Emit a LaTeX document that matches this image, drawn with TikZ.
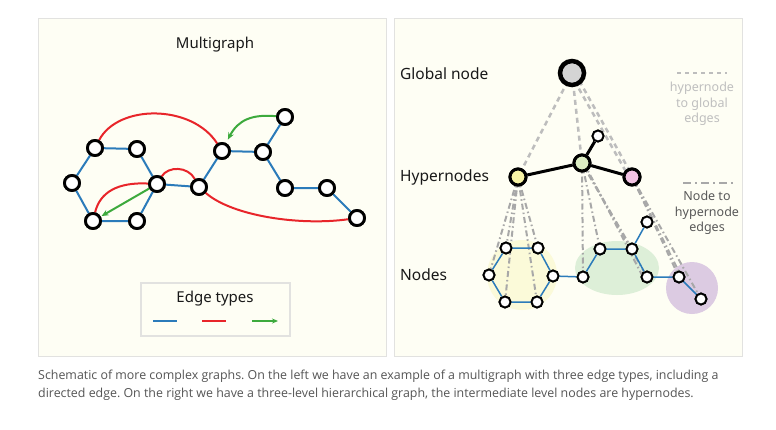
\documentclass[tikz,border=0pt]{standalone}
\usepackage{fontspec}
\setmainfont{Noto Sans}
\newfontfamily\capfont{Open Sans}
\usetikzlibrary{arrows.meta,calc}
\frenchspacing
\definecolor{panelbg}{HTML}{FEFEF4}
\definecolor{panelbd}{HTML}{E2E2E0}
\definecolor{eblue}{HTML}{2B7BBA}
\definecolor{ered}{HTML}{E8252A}
\definecolor{egreen}{HTML}{3DAA3D}
\definecolor{dgray}{HTML}{BDBDBD}
\definecolor{ddgray}{HTML}{A8A8A8}
\definecolor{blobyel}{HTML}{FBFAD9}
\definecolor{blobgrn}{HTML}{DDEFD8}
\definecolor{blobpur}{HTML}{DCCBE2}
\definecolor{hyel}{HTML}{F8F4A6}
\definecolor{hgrn}{HTML}{DCEDC3}
\definecolor{hpnk}{HTML}{F2C3E3}
\definecolor{capgray}{HTML}{555555}
\tikzset{
  lnode/.style={circle,draw=black,line width=2.8pt,fill=white,minimum size=15pt,inner sep=0pt},
  snode/.style={circle,draw=black,line width=1.9pt,fill=white,minimum size=11pt,inner sep=0pt},
  hnode/.style={circle,draw=black,line width=3pt,minimum size=16pt,inner sep=0pt},
  gnode/.style={circle,draw=black,line width=4.5pt,fill=black!17,minimum size=24pt,inner sep=0pt},
  bedge/.style={draw=eblue,line width=2pt},
  sbedge/.style={draw=eblue,line width=1.5pt},
  redge/.style={draw=ered,line width=2pt},
  gedge/.style={draw=egreen,line width=2pt,-{Stealth[length=7pt,width=6pt]}},
  hgedge/.style={draw=dgray,line width=2.5pt,dash pattern=on 5pt off 4pt},
  nhedge/.style={draw=ddgray,line width=2pt,dash pattern=on 6pt off 3pt on 1.5pt off 3pt},
  kedge/.style={draw=black,line width=3pt},
  panel/.style={draw=panelbd,fill=panelbg,line width=1pt},
  lbl/.style={font=\fontsize{15.5}{18}\selectfont,text=black!90,inner sep=0pt},
  captxt/.style={anchor=west,text=capgray,font=\capfont\fontsize{12.4}{14}\selectfont,inner sep=0pt}
}
\begin{document}
\begin{tikzpicture}[x=1pt,y=-1pt]
\useasboundingbox (0,0) rectangle (776,429);
\fill[white] (0,0) rectangle (776,429);
% panels
\draw[panel] (38,18) rectangle (386,356);
\draw[panel] (394,18) rectangle (742,356);

% ===== LEFT: multigraph =====
\node[lbl,font=\fontsize{15}{18}\selectfont] (title) at (215,45) {Multigraph};
\node[lnode] (n1) at (95,148) {};
\node[lnode] (n2) at (137,149) {};
\node[lnode] (n3) at (72,183) {};
\node[lnode] (n4) at (157,184) {};
\node[lnode] (n5) at (93,221) {};
\node[lnode] (n6) at (137,221) {};
\node[lnode] (n7) at (199,187) {};
\node[lnode] (n8) at (222,151) {};
\node[lnode] (n9) at (263,152) {};
\node[lnode] (n10) at (285,117) {};
\node[lnode] (n11) at (285,188) {};
\node[lnode] (n12) at (327,188) {};
\node[lnode] (n13) at (357,218) {};
\path[bedge] (n1)--(n2) (n1)--(n3) (n3)--(n5) (n5)--(n6) (n6)--(n4) (n2)--(n4)
  (n4)--(n7) (n7)--(n8) (n8)--(n9) (n9)--(n10) (n9)--(n11) (n11)--(n12) (n12)--(n13);
\path[redge] (n1) .. controls (118,104) and (192,104) .. (n8);
\path[redge] (n4) .. controls (168,166) and (188,166) .. (n7);
\path[redge] (n5) .. controls (100,192) and (118,182) .. (n4);
\path[redge] (n7) .. controls (232,216) and (300,226) .. (n13);
\path[gedge,shorten >=4pt] (n10) .. controls (252,114) and (238,120) .. (n8);
\path[gedge,shorten >=1pt] (n4) -- (n5);
% redraw nodes on top
\foreach \x/\y in {95/148,137/149,72/183,157/184,93/221,137/221,199/187,222/151,263/152,285/117,285/188,327/188,357/218}
  \node[lnode] at (\x,\y) {};

% legend
\node[draw=panelbd,fill=panelbg,line width=1.2pt,minimum width=149pt,minimum height=53pt,inner sep=0pt] (leg) at (215.5,309.5) {};
\node[lbl,font=\fontsize{15}{18}\selectfont] (legt) at (215,299) {Edge types};
\coordinate (lb1) at (153,321); \coordinate (lb2) at (177,321);
\coordinate (lr1) at (202,321); \coordinate (lr2) at (226,321);
\coordinate (lg1) at (252,321); \coordinate (lg2) at (278,321);
\draw[bedge] (lb1)--(lb2);
\draw[redge] (lr1)--(lr2);
\draw[gedge,-{Stealth[length=6pt,width=5pt]}] (lg1)--(lg2);

% ===== RIGHT: hierarchical graph =====
\fill[blobyel] (522,275) circle (35);
\fill[blobgrn] (617,268) ellipse (42 and 27);
\fill[blobpur] (692,288) circle (26);

\node[lbl,anchor=west] (lglob) at (400,74) {Global node};
\node[lbl,anchor=west] (lhyp) at (400,177) {Hypernodes};
\node[lbl,anchor=west] (lnod) at (400,275) {Nodes};

\coordinate (G) at (572,73);
\coordinate (HY) at (518,177);
\coordinate (HG) at (582,163);
\coordinate (HP) at (632,177);
\node[snode] (s0) at (598,136) {};

\node[snode] (a1) at (506,248) {};
\node[snode] (a2) at (538,248) {};
\node[snode] (a3) at (489,275) {};
\node[snode] (a4) at (553,276) {};
\node[snode] (a5) at (505,302) {};
\node[snode] (a6) at (537,302) {};
\node[snode] (b1) at (583,277) {};
\node[snode] (b2) at (600,249) {};
\node[snode] (b3) at (632,249) {};
\node[snode] (b4) at (647,222) {};
\node[snode] (b5) at (647,277) {};
\node[snode] (c1) at (679,277) {};
\node[snode] (c2) at (701,299) {};

% node to hypernode edges
\foreach \t in {a1,a2,a3,a5,a6} \draw[nhedge] (HY) -- (\t.center);
\foreach \t in {b1,b2,b3,b5} \draw[nhedge] (HG) -- (\t.center);
\draw[nhedge] ($(HG)+(2,0)$) -- ($(b5.center)+(-4,0)$);
\foreach \t in {c1,c2} \draw[nhedge] (HP) -- (\t.center);
\draw[nhedge] (HP) -- ($(c1.center)+(3,1)$);
% hypernode to global edges
\draw[hgedge] (G) -- (HY);
\draw[hgedge] (G) -- (HG);
\draw[hgedge] ($(G)+(-2,0)$) -- ($(HP)+(-3,0)$);
\draw[hgedge] ($(G)+(3,0)$) -- ($(HP)+(1,0)$);

% blue edges
\draw[sbedge] (a1)--(a2) (a2)--(a4) (a4)--(a6) (a6)--(a5) (a5)--(a3) (a3)--(a1)
  (a4)--(b1) (b1)--(b2) (b2)--(b3) (b3)--(b4) (b3)--(b5) (b5)--(c1) (c1)--(c2);

% hypernodes
\node[gnode] (glob) at (G) {};
\node[hnode,fill=hyel] (hy) at (HY) {};
\node[hnode,fill=hgrn] (hg) at (HG) {};
\node[hnode,fill=hpnk] (hp) at (HP) {};
\draw[kedge] (hy)--(hg) (hg)--(hp) (hg)--(s0);
\node[hnode,fill=hyel] at (HY) {};
\node[hnode,fill=hgrn] at (HG) {};
\node[hnode,fill=hpnk] at (HP) {};
\node[snode] at (598,136) {};
\foreach \x/\y in {506/248,538/248,489/275,553/276,505/302,537/302,583/277,600/249,632/249,647/222,647/277,679/277,701/299}
  \node[snode] at (\x,\y) {};

% right legend
\coordinate (k1) at (677,73); \coordinate (k2) at (727,73);
\draw[draw=dgray,line width=2pt,dash pattern=on 4pt off 4pt] (k1)--(k2);
\node[align=center,text=black!25,font=\fontsize{12.5}{15.5}\selectfont,inner sep=0pt] (kt1) at (702,104) {hypernode\\to global\\edges};
\coordinate (k3) at (683,183); \coordinate (k4) at (733,183);
\draw[draw=ddgray,line width=2pt,dash pattern=on 8pt off 4pt on 2pt off 4pt] (k3)--(k4);
\node[align=center,text=black!65,font=\fontsize{12.5}{15.5}\selectfont,inner sep=0pt] (kt2) at (707,213) {Node to\\hypernode\\edges};

% caption
\node[captxt] (cap1) at (38,376) {Schematic of more complex graphs. On the left we have an example of a multigraph with three edge types, including a};
\node[captxt] (cap2) at (38,394) {directed edge. On the right we have a three-level hierarchical graph, the intermediate level nodes are hypernodes.};
\end{tikzpicture}
\end{document}
